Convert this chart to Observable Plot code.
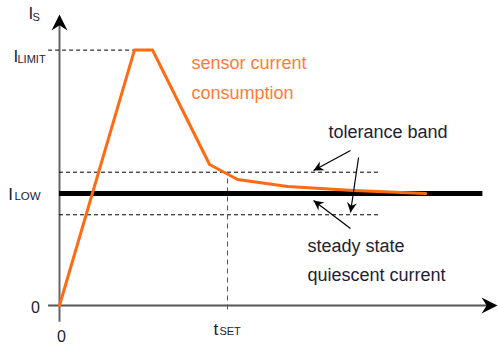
<!DOCTYPE html>
<html><head><meta charset="utf-8">
<script src="https://cdn.jsdelivr.net/npm/d3@7"></script>
<script src="https://cdn.jsdelivr.net/npm/@observablehq/plot@0.6"></script>
<style>body{margin:0;background:#fff;} svg{display:block}</style>
</head><body><div id="chart"></div>
<script>
// ---- data (time in units of t_SET, current in units of I_LOW) ----
const I_LOW = 1.0;
const I_LIMIT = 2.28;
const TOL = 0.19;
const T_SET = 1.0;
const T_MAX = 2.607;
const I_MAX = 2.598;
const curveT = [0, 0.446, 0.554, 0.893, 1.06, 1.357, 1.75, 2.18];
const curveI = [0, 2.28, 2.28, 1.259, 1.125, 1.063, 1.027, 1.0];
const bandEndT = 1.9;
const lowEndT = 2.52;
const limitStartT = -0.065;
const axisStubT = -0.065;
const axisStubI = -0.15;

// annotation arrows: from (t1,I1) to tip (t2,I2)
const arrowT1 = [1.732, 1.78, 1.732];
const arrowI1 = [1.384, 1.321, 0.6875];
const arrowT2 = [1.512, 1.732, 1.512];
const arrowI2 = [1.205, 0.83, 0.9375];

// texts
const notes = ["sensor current", "consumption", "tolerance band", "steady state", "quiescent current"];
const noteT = [0.786, 0.786, 1.601, 1.476, 1.476];
const noteI = [2.107, 1.848, 1.491, 0.482, 0.223];
const noteColor = ["#ff7a3a", "#ff7a3a", "#1c2233", "#1c2233", "#1c2233"];

const mainLabels = ["I", "I", "I", "t"];
const mainT = [-0.1845, -0.2738, -0.305, 0.9167];
const mainI = [2.554, 2.17, 0.9375, -0.259];
const subLabels = ["S", "LIMIT", "LOW", "SET"];
const subT = [-0.1607, -0.25, -0.268, 0.952];
const subI = [2.536, 2.161, 0.9375, -0.263];
const subSize = [11, 11, 11.5, 11];
const zeroLabels = ["0", "0"];
const zeroT = [-0.143, 0.012];
const zeroI = [-0.071, -0.33];

// ---- chart ----
const W = 499, H = 344, mL = 59, mR = 2, mT = 14, mB = 39;
const kx = (W - mL - mR) / T_MAX, ky = (H - mT - mB) / I_MAX;

const head = {draw(ctx, size) {
  const L = Math.sqrt(size);
  ctx.moveTo(0, 0);
  ctx.lineTo(-L, -L * 0.5);
  ctx.lineTo(-L * 0.68, 0);
  ctx.lineTo(-L, L * 0.5);
  ctx.closePath();
}};

const curve = curveT.map((t, i) => ({t, I: curveI[i]}));
const arrows = arrowT1.map((t, i) => ({
  t1: t, I1: arrowI1[i], t2: arrowT2[i], I2: arrowI2[i],
  angle: Math.atan2(-(arrowI2[i] - arrowI1[i]) * ky, (arrowT2[i] - t) * kx) * 180 / Math.PI
}));
const noteData = notes.map((s, i) => ({s, t: noteT[i], I: noteI[i], c: noteColor[i]}));
const mainData = mainLabels.map((s, i) => ({s, t: mainT[i], I: mainI[i]}));
const subData = subLabels.map((s, i) => ({s, t: subT[i], I: subI[i], fs: subSize[i]}));
const zeroData = zeroLabels.map((s, i) => ({s, t: zeroT[i], I: zeroI[i]}));
const axisHeads = [{t: T_MAX, I: 0, a: 0}, {t: 0, I: I_MAX, a: -90}];

const chart = Plot.plot({
  width: W, height: H,
  marginLeft: mL, marginRight: mR, marginTop: mT, marginBottom: mB,
  x: {domain: [0, T_MAX], axis: null},
  y: {domain: [0, I_MAX], axis: null},
  style: {fontFamily: "'Liberation Sans', Arial, sans-serif", background: "white"},
  marks: [
    // axes
    Plot.ruleY([0], {x1: axisStubT, x2: T_MAX - 0.03, stroke: "#555", strokeWidth: 2}),
    Plot.ruleX([0], {y1: axisStubI, y2: I_MAX - 0.05, stroke: "#666", strokeWidth: 2}),
    Plot.dot(axisHeads, {x: "t", y: "I", rotate: "a", symbol: head, r: 9, fill: "black", stroke: null}),
    // reference lines
    Plot.ruleY([I_LIMIT], {x1: limitStartT, x2: curveT[1], stroke: "black", strokeWidth: 1, strokeDasharray: "4,3"}),
    Plot.ruleY([I_LOW + TOL, I_LOW - TOL], {x1: 0, x2: bandEndT, stroke: "black", strokeWidth: 1, strokeDasharray: "4,3"}),
    Plot.ruleX([T_SET], {y1: -0.04, y2: I_LOW + TOL, stroke: "#555", strokeWidth: 1, strokeDasharray: "5,4"}),
    Plot.ruleY([I_LOW], {x1: 0, x2: lowEndT, stroke: "black", strokeWidth: 5}),
    // sensor current
    Plot.line(curve, {x: "t", y: "I", stroke: "#ff6a13", strokeWidth: 3}),
    // annotation arrows
    Plot.link(arrows, {x1: "t1", y1: "I1", x2: "t2", y2: "I2", stroke: "black", strokeWidth: 1.2}),
    Plot.dot(arrows, {x: "t2", y: "I2", rotate: "angle", symbol: head, r: 5.6, fill: "black", stroke: null}),
    // texts
    Plot.text(noteData, {x: "t", y: "I", text: "s", fill: "c", textAnchor: "start", lineAnchor: "bottom", fontSize: 18}),
    Plot.text(mainData, {x: "t", y: "I", text: "s", fill: "#1c2233", textAnchor: "start", lineAnchor: "bottom", fontSize: 17}),
    Plot.text(subData.slice(0, 2), {x: "t", y: "I", text: "s", fill: "#1c2233", textAnchor: "start", lineAnchor: "bottom", fontSize: 11}),
    Plot.text(subData.slice(2, 3), {x: "t", y: "I", text: "s", fill: "#1c2233", textAnchor: "start", lineAnchor: "bottom", fontSize: 11.5}),
    Plot.text(subData.slice(3), {x: "t", y: "I", text: "s", fill: "#1c2233", textAnchor: "start", lineAnchor: "bottom", fontSize: 11}),
    Plot.text(zeroData, {x: "t", y: "I", text: "s", fill: "#1c2233", textAnchor: "middle", lineAnchor: "bottom", fontSize: 16})
  ]
});
document.getElementById("chart").appendChild(chart);
</script>
</body></html>
